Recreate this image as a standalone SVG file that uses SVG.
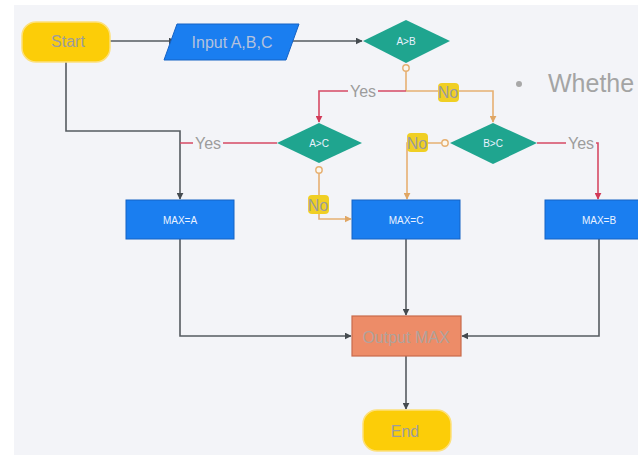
<svg xmlns="http://www.w3.org/2000/svg" width="638" height="455" viewBox="0 0 638 455">
  <defs>
    <style>
      .lbl { font-family: "Liberation Sans", Arial, sans-serif; fill: #9c9c9c; text-anchor: middle; dominant-baseline: central; font-size: 16px; }
      .inner { font-family: "Liberation Sans", Arial, sans-serif; fill: #eaf2ff; text-anchor: middle; dominant-baseline: central; font-size: 10px; }
      .term { fill: #fccd08; stroke: #fde07a; stroke-width: 1.5; }
      .proc { fill: #1a7ef0; stroke: #1562c4; stroke-width: 1; }
      .dec { fill: #1fa58f; }
      .out { fill: #ed8c68; stroke: #c96a4c; stroke-width: 1.2; }
      .gray { fill: none; stroke: #555b60; stroke-width: 1.6; }
      .red { fill: none; stroke: #d64a64; stroke-width: 1.6; }
      .orange { fill: none; stroke: #e6b072; stroke-width: 1.6; }
      .hl { fill: #f0cf24; }
      .port { fill: #fbf7ee; stroke: #e6b072; stroke-width: 1.4; }
      .gap { fill: #f3f4f8; }
    </style>
    <marker id="ah-gray" viewBox="0 0 10 10" refX="9" refY="5" markerWidth="7" markerHeight="7" markerUnits="userSpaceOnUse" orient="auto">
      <path d="M0,0 L10,5 L0,10 z" fill="#454b50"/>
    </marker>
    <marker id="ah-red" viewBox="0 0 10 10" refX="9" refY="5" markerWidth="7" markerHeight="7" markerUnits="userSpaceOnUse" orient="auto">
      <path d="M0,0 L10,5 L0,10 z" fill="#d23a58"/>
    </marker>
    <marker id="ah-orange" viewBox="0 0 10 10" refX="9" refY="5" markerWidth="7" markerHeight="7" markerUnits="userSpaceOnUse" orient="auto">
      <path d="M0,0 L10,5 L0,10 z" fill="#e0a664"/>
    </marker>
  </defs>

  <!-- canvas -->
  <rect x="0" y="0" width="638" height="455" fill="#ffffff"/>
  <rect x="14" y="5" width="624" height="450" fill="#f3f4f8"/>

  <!-- side note -->
  <circle cx="519" cy="84" r="3" fill="#a8a8a8"/>
  <text x="548" y="92" font-family="'Liberation Sans', Arial, sans-serif" font-size="25" fill="#a4a4a4">Whethe</text>

  <!-- connectors -->
  <g id="connectors">
    <path class="gray" d="M110,41 H175" marker-end="url(#ah-gray)"/>
    <path class="gray" d="M288,41 H362" marker-end="url(#ah-gray)"/>
    <path class="gray" d="M66,62 V131 H180 V199" marker-end="url(#ah-gray)"/>

    <!-- A>B outcomes -->
    <path class="orange" d="M406,71 V91"/>
    <path class="red" d="M406,91 H319 V122" marker-end="url(#ah-red)"/>
    <path class="orange" d="M406,91 H493 V122" marker-end="url(#ah-orange)"/>
    <circle class="port" cx="406" cy="68" r="3.2"/>

    <!-- A>C outcomes -->
    <path class="red" d="M277,143 H180"/>
    <path class="orange" d="M319,173 V219 H351" marker-end="url(#ah-orange)"/>
    <circle class="port" cx="319" cy="170" r="3.2"/>

    <!-- B>C outcomes -->
    <path class="orange" d="M442,143 H407 V199" marker-end="url(#ah-orange)"/>
    <circle class="port" cx="445" cy="143" r="3.2"/>
    <path class="red" d="M537,143 H598 V199" marker-end="url(#ah-red)"/>

    <!-- to output -->
    <path class="gray" d="M180,239 V336 H351" marker-end="url(#ah-gray)"/>
    <path class="gray" d="M406,239 V315" marker-end="url(#ah-gray)"/>
    <path class="gray" d="M599,239 V336 H462" marker-end="url(#ah-gray)"/>
    <path class="gray" d="M406,356 V409" marker-end="url(#ah-gray)"/>

    <!-- branch labels -->
    <rect class="gap" x="348" y="83" width="30" height="16"/>
    <text class="lbl" x="363" y="91">Yes</text>
    <rect class="hl" x="438" y="83" width="21" height="19" rx="4"/>
    <text class="lbl" x="448" y="92" font-size="15">No</text>
    <rect class="gap" x="193" y="135" width="30" height="16"/>
    <text class="lbl" x="208" y="143">Yes</text>
    <rect class="hl" x="308" y="195" width="21" height="19" rx="4"/>
    <text class="lbl" x="318" y="205" font-size="15">No</text>
    <rect class="hl" x="407" y="133" width="21" height="19" rx="4"/>
    <text class="lbl" x="417" y="143" font-size="15">No</text>
    <rect class="gap" x="566" y="135" width="30" height="16"/>
    <text class="lbl" x="581" y="143">Yes</text>
  </g>

  <!-- nodes -->
  <g id="start">
    <rect class="term" x="22" y="22" width="88" height="40" rx="14"/>
    <text class="lbl" x="68" y="41" font-size="15">Start</text>
  </g>
  <g id="input">
    <polygon class="proc" points="177,24 299,24 286,60 164,60"/>
    <text class="lbl" x="232" y="42" style="fill:#b4c2dc">Input A,B,C</text>
  </g>
  <g id="cmp-ab">
    <polygon class="dec" points="363,41 406,20 450,41 406,63"/>
    <text class="inner" x="406" y="41">A&gt;B</text>
  </g>
  <g id="cmp-ac">
    <polygon class="dec" points="277,143 319,123 362,143 319,163"/>
    <text class="inner" x="319" y="143">A&gt;C</text>
  </g>
  <g id="cmp-bc">
    <polygon class="dec" points="450,143 493,123 537,143 493,164"/>
    <text class="inner" x="493" y="143">B&gt;C</text>
  </g>
  <g id="max-a">
    <rect class="proc" x="126" y="200" width="108" height="39"/>
    <text class="inner" x="180" y="220" font-size="11">MAX=A</text>
  </g>
  <g id="max-c">
    <rect class="proc" x="352" y="200" width="108" height="39"/>
    <text class="inner" x="406" y="220" font-size="11">MAX=C</text>
  </g>
  <g id="max-b">
    <rect class="proc" x="545" y="200" width="108" height="39"/>
    <text class="inner" x="599" y="220" font-size="11">MAX=B</text>
  </g>
  <g id="output">
    <rect class="out" x="352" y="316" width="109" height="40"/>
    <text class="lbl" x="406" y="337" style="fill:#b0a29c">Output MAX</text>
  </g>
  <g id="end">
    <rect class="term" x="363" y="410" width="88" height="41" rx="14"/>
    <text class="lbl" x="405" y="431">End</text>
  </g>
</svg>
